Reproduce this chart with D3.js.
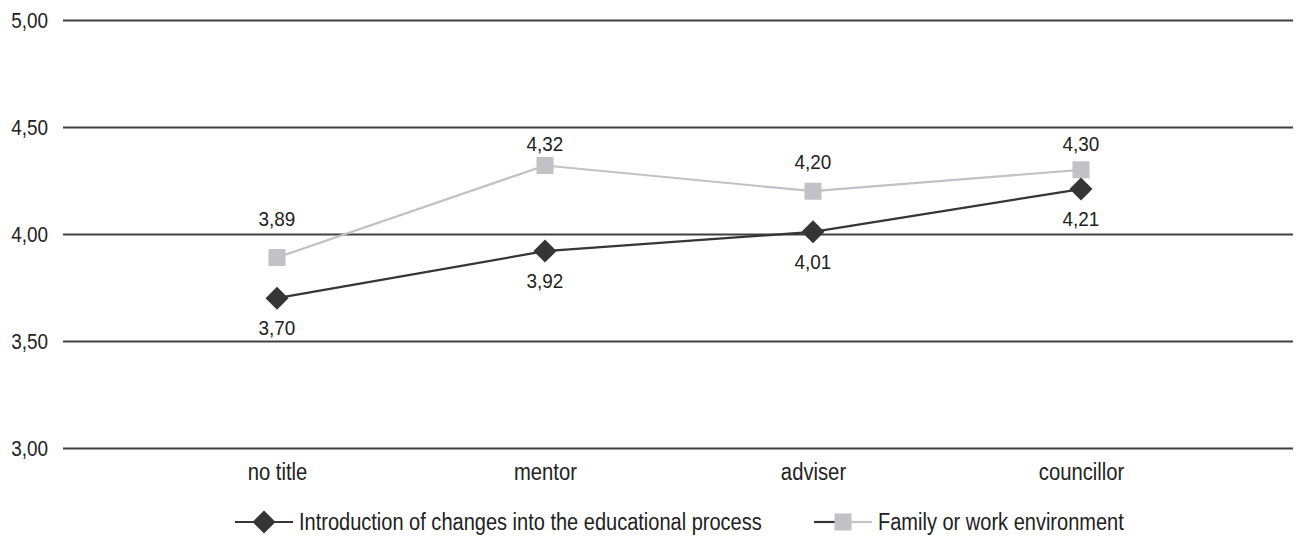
<!DOCTYPE html>
<html>
<head>
<meta charset="utf-8">
<script src="https://cdn.jsdelivr.net/npm/d3@7/dist/d3.min.js"></script>
<style>
  html, body { margin: 0; padding: 0; background: #fff; }
  svg { display: block; font-family: "Liberation Sans", Arial, sans-serif; }
</style>
</head>
<body>
<svg id="chart" width="1297" height="539"></svg>
<script>
// Categories (academic title) and mean scores for the two factors
const categories = ["no title", "mentor", "adviser", "councillor"];
const changesValues = [3.70, 3.92, 4.01, 4.21];
const familyValues = [3.89, 4.32, 4.20, 4.30];
const yTicks = [3.00, 3.50, 4.00, 4.50, 5.00];
const seriesNames = ["Introduction of changes into the educational process", "Family or work environment"];

const dark = "#353535";
const light = "#c2c2c6";
const textColor = "#222";
const fmt = v => v.toFixed(2).replace(".", ",");

// Condense a text element horizontally (narrow typeface look)
function condense(sel, factor) {
  sel.each(function () {
    const len = this.getComputedTextLength();
    d3.select(this).attr("textLength", len * factor).attr("lengthAdjust", "spacingAndGlyphs");
  });
}

const svg = d3.select("#chart");

const x = d3.scalePoint().domain(categories).range([277, 1081]);
const y = d3.scaleLinear().domain([3, 5]).range([448, 20]);

// Horizontal gridlines with tick labels on the left
const yAxis = d3.axisLeft(y).tickValues(yTicks).tickFormat(fmt)
  .tickSize(-(1293 - 63)).tickPadding(15);
const gy = svg.append("g").attr("transform", "translate(63,0)").call(yAxis);
gy.select(".domain").remove();
gy.selectAll(".tick line").attr("stroke", "#404040").attr("stroke-width", 2);
gy.selectAll(".tick text").attr("fill", textColor).attr("font-size", 22).attr("font-family", null)
  .call(condense, 0.86);

// Category labels below the plot
const xAxis = d3.axisBottom(x).tickSize(0).tickPadding(16);
const gx = svg.append("g").attr("transform", "translate(0,448)").call(xAxis);
gx.select(".domain").remove();
gx.selectAll(".tick text").attr("font-family", null)
  .attr("fill", textColor).attr("font-size", 23)
  .call(condense, 0.88);

const line = d3.line().x((d, i) => x(categories[i])).y(d => y(d));

// Family or work environment series (light grey squares)
svg.append("path").datum(familyValues).attr("d", line)
  .attr("fill", "none").attr("stroke", light).attr("stroke-width", 2.2);
// Introduction of changes series (dark diamonds)
svg.append("path").datum(changesValues).attr("d", line)
  .attr("fill", "none").attr("stroke", dark).attr("stroke-width", 2.2);

const sq = 17, dm = 11.5;
const diamondPath = `M0,${-dm}L${dm},0L0,${dm}L${-dm},0Z`;

svg.append("g").selectAll("rect").data(familyValues).join("rect")
  .attr("x", (d, i) => x(categories[i]) - sq / 2)
  .attr("y", d => y(d) - sq / 2)
  .attr("width", sq).attr("height", sq).attr("fill", light);

svg.append("g").selectAll("path").data(changesValues).join("path")
  .attr("d", diamondPath)
  .attr("transform", (d, i) => `translate(${x(categories[i])},${y(d)})`)
  .attr("fill", dark);

// Value labels: light series above its points (nudged clear of gridlines), dark series below
const familyLabelDy = [-32, -15, -22, -19];
svg.append("g").selectAll("text").data(familyValues).join("text")
  .attr("x", (d, i) => x(categories[i]))
  .attr("y", (d, i) => y(d) + familyLabelDy[i])
  .attr("text-anchor", "middle").attr("font-size", 21).attr("fill", textColor)
  .text(fmt)
  .call(condense, 0.9);

svg.append("g").selectAll("text").data(changesValues).join("text")
  .attr("x", (d, i) => x(categories[i]))
  .attr("y", d => y(d) + 37)
  .attr("text-anchor", "middle").attr("font-size", 21).attr("fill", textColor)
  .text(fmt)
  .call(condense, 0.9);

// Legend
const legY = 522;
const leg1 = svg.append("g").attr("transform", `translate(264,${legY})`);
leg1.append("line").attr("x1", -29).attr("x2", 29).attr("stroke", dark).attr("stroke-width", 2.2);
leg1.append("path").attr("d", diamondPath).attr("fill", dark);
leg1.append("text").attr("x", 35).attr("y", 8)
  .attr("font-size", 23).attr("fill", textColor).text(seriesNames[0])
  .call(condense, 0.87);

const leg2 = svg.append("g").attr("transform", `translate(843,${legY})`);
leg2.append("line").attr("x1", -29).attr("x2", 0).attr("stroke", dark).attr("stroke-width", 2.2);
leg2.append("line").attr("x1", 0).attr("x2", 29).attr("stroke", light).attr("stroke-width", 2.2);
leg2.append("rect").attr("x", -sq / 2).attr("y", -sq / 2).attr("width", sq).attr("height", sq).attr("fill", light);
leg2.append("text").attr("x", 35).attr("y", 8)
  .attr("font-size", 23).attr("fill", textColor).text(seriesNames[1])
  .call(condense, 0.87);
</script>
</body>
</html>
